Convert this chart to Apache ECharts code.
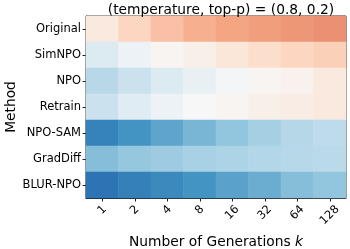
<!DOCTYPE html>
<html><head><meta charset="utf-8">
<script src="https://cdn.jsdelivr.net/npm/echarts@6/dist/echarts.min.js"></script>
<style>html,body{margin:0;padding:0;background:#fff}#c{width:350px;height:249px}</style>
</head><body><div id="c"></div>
<script>
const methods = ['Original','SimNPO','NPO','Retrain','NPO-SAM','GradDiff','BLUR-NPO'];
const generations = ['1','2','4','8','16','32','64','128'];
// normalized score per method (colormap position 0..1), one value per k
const original = [0.55,0.61,0.65,0.68,0.70,0.71,0.72,0.73];
const simnpo   = [0.43,0.47,0.51,0.53,0.56,0.59,0.61,0.62];
const npo      = [0.36,0.39,0.43,0.46,0.49,0.51,0.52,0.55];
const retrain  = [0.39,0.44,0.47,0.50,0.51,0.53,0.54,0.55];
const npoSam   = [0.162,0.20,0.234,0.268,0.30,0.33,0.356,0.37];
const gradDiff = [0.285,0.305,0.32,0.337,0.343,0.353,0.359,0.363];
const blurNpo  = [0.131,0.158,0.178,0.20,0.229,0.251,0.285,0.30];
const rows = [original, simnpo, npo, retrain, npoSam, gradDiff, blurNpo];

const data = [];
rows.forEach((r, i) => r.forEach((v, j) => data.push([j, i, v])));

const RdBu_r = ['#053061','#2166ac','#4393c3','#92c5de','#d1e5f0','#f7f7f7','#fddbc7','#f4a582','#d6604d','#b2182b','#67001f'];
const FONT = 'DejaVu Sans';

const chart = echarts.init(document.getElementById('c'), null, {renderer:'canvas'});
chart.setOption({
  animation: false,
  backgroundColor: '#fff',
  title: {
    text: '(temperature, top-p) = (0.8, 0.2)',
    left: 216, top: -2, textAlign: 'center',
    textStyle: {fontFamily: FONT, fontSize: 13.8, fontWeight: 'normal', color: '#000'}
  },
  grid: {left: 86, right: 4, top: 16, bottom: 51, containLabel: false, outerBoundsMode: 'none',
         show: true, borderColor: '#222', borderWidth: 1, backgroundColor: 'transparent'},
  xAxis: {
    type: 'category', data: generations,
    name: 'Number of Generations {i|k}', nameLocation: 'middle', nameGap: 37, nameMoveOverlap: false,
    nameTextStyle: {fontFamily: FONT, fontSize: 13.8, color: '#000', rich: {i: {fontFamily: FONT, fontSize: 13.8, fontStyle: 'italic', color: '#000'}}},
    axisLine: {show: true, lineStyle: {color: '#222', width: 1}},
    axisTick: {show: true, alignWithLabel: true, length: 3.5, lineStyle: {color: '#222'}},
    splitLine: {show: false},
    axisLabel: {
      rotate: 45, align: 'center', verticalAlign: 'middle', margin: 12,
      fontFamily: FONT, fontSize: 11.5, color: '#000',
      formatter: v => v.length >= 3 ? '{c|' + v + '}' : (v.length === 2 ? '{b|' + v + '}' : '{a|' + v + '}'),
      rich: {
        a: {fontFamily: FONT, fontSize: 11.5, color: '#000'},
        b: {fontFamily: FONT, fontSize: 11.5, color: '#000', padding: [3.7, 3.7, 0, 0]},
        c: {fontFamily: FONT, fontSize: 11.5, color: '#000', padding: [7.3, 7.3, 0, 0]}
      }
    }
  },
  yAxis: {
    type: 'category', data: methods, inverse: true,
    name: 'Method', nameLocation: 'middle', nameGap: 68, nameMoveOverlap: false,
    nameTextStyle: {fontFamily: FONT, fontSize: 13.8, color: '#000'},
    axisLine: {show: true, lineStyle: {color: '#222', width: 1}},
    axisTick: {show: true, alignWithLabel: true, length: 3.5, lineStyle: {color: '#222'}},
    splitLine: {show: false},
    axisLabel: {margin: 5, fontFamily: FONT, fontSize: 11.5, color: '#000'}
  },
  visualMap: {
    show: false, type: 'continuous', min: 0, max: 1, dimension: 2,
    inRange: {color: RdBu_r}
  },
  series: [{
    type: 'heatmap', data: data,
    itemStyle: {borderWidth: 0},
    emphasis: {disabled: true}
  }]
});
</script></body></html>
